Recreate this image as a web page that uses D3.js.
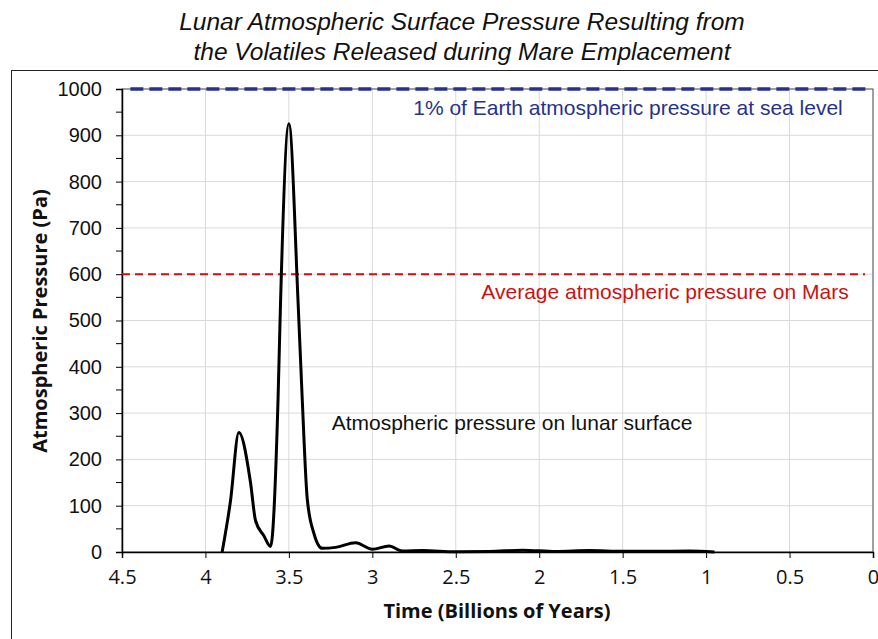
<!DOCTYPE html>
<html lang="en">
<head>
    <meta charset="UTF-8">
    <title>Lunar Atmospheric Surface Pressure</title>
    <script src="https://d3js.org/d3.v7.min.js"></script>
    <style>
        body { margin: 0; background: #fff; }
    </style>
</head>
<body>

<svg width="878" height="639"></svg>

<script>

    // data: time (billions of years ago) and pressure (Pa)
    var times = [3.90, 3.85, 3.80, 3.73, 3.70, 3.65, 3.61, 3.565, 3.55, 3.50, 3.445, 3.42, 3.39, 3.35, 3.30,
        3.22, 3.10, 3.00, 2.90, 2.82, 2.70, 2.50, 2.30, 2.10, 1.90, 1.70, 1.50, 1.30, 1.10, 0.95];
    var pressures = [0, 110, 258, 150, 68, 35, 12, 330, 540, 925, 540, 330, 115, 40, 8,
        10, 20, 6, 13, 2, 3, 0.5, 1, 4, 1, 3, 1.5, 1.5, 2, 0];

    var xTicks = [4.5, 4, 3.5, 3, 2.5, 2, 1.5, 1, 0.5, 0];
    var yTicks = [0, 100, 200, 300, 400, 500, 600, 700, 800, 900, 1000];
    var yMinorTicks = [50, 150, 250, 350, 450, 550, 650, 750, 850, 950];

    // reference levels
    var earthLevel = 1000;
    var marsLevel = 600;

    var titleLines = ['Lunar Atmospheric Surface Pressure Resulting from',
        'the Volatiles Released during Mare Emplacement'];

    var svg = d3.select('svg');

    // plot area (avoid the name "top", it is window.top)
    var pLeft = 122, pRight = 873, pTop = 89, pBottom = 552;

    var x = d3.scaleLinear().domain([4.5, 0]).range([pLeft, pRight]);
    var y = d3.scaleLinear().domain([0, 1000]).range([pBottom, pTop]);

    // outer frame
    svg.append('rect')
        .attr('x', 11.5).attr('y', 70.5)
        .attr('width', 900).attr('height', 600)
        .attr('fill', 'none')
        .attr('stroke', '#222')
        .attr('stroke-width', 1);

    // title
    svg.append('g')
        .selectAll('text')
        .data(titleLines)
        .enter()
        .append('text')
        .attr('x', 462)
        .attr('y', function (d, i) { return 30 + i * 30; })
        .attr('text-anchor', 'middle')
        .attr('font-family', 'Liberation Sans, Arial, sans-serif')
        .attr('font-style', 'italic')
        .attr('font-size', 24.5)
        .attr('fill', '#111')
        .text(function (d) { return d; });

    // gridlines
    var grid = svg.append('g');
    grid.selectAll('line.h')
        .data(yTicks.slice(1))
        .enter()
        .append('line')
        .attr('x1', pLeft).attr('x2', pRight)
        .attr('y1', function (d) { return y(d); })
        .attr('y2', function (d) { return y(d); })
        .attr('stroke', '#d9d9d9')
        .attr('stroke-width', 1);
    grid.selectAll('line.v')
        .data(xTicks.slice(1))
        .enter()
        .append('line')
        .attr('x1', function (d) { return x(d); })
        .attr('x2', function (d) { return x(d); })
        .attr('y1', pTop).attr('y2', pBottom)
        .attr('stroke', '#d9d9d9')
        .attr('stroke-width', 1);

    // plot area border
    svg.append('rect')
        .attr('x', pLeft).attr('y', pTop)
        .attr('width', pRight - pLeft).attr('height', pBottom - pTop)
        .attr('fill', 'none')
        .attr('stroke', '#555')
        .attr('stroke-width', 1);

    // y axis
    var yAxis = svg.append('g')
        .attr('transform', 'translate(' + pLeft + ',0)')
        .call(d3.axisLeft(y).tickValues(yTicks).tickSize(6).tickPadding(14).tickFormat(d3.format('d')));
    yAxis.select('.domain').attr('stroke', '#000').attr('stroke-width', 1.5);
    yAxis.selectAll('text')
        .attr('font-family', 'Liberation Sans, Arial, sans-serif')
        .attr('font-size', 20)
        .attr('fill', '#111');
    yAxis.selectAll('.tick line').attr('stroke', '#000');

    svg.append('g')
        .selectAll('line')
        .data(yMinorTicks)
        .enter()
        .append('line')
        .attr('x1', pLeft - 6).attr('x2', pLeft)
        .attr('y1', function (d) { return y(d); })
        .attr('y2', function (d) { return y(d); })
        .attr('stroke', '#000');

    // x axis
    var xAxis = svg.append('g')
        .attr('transform', 'translate(0,' + pBottom + ')')
        .call(d3.axisBottom(x).tickValues(xTicks).tickSize(6).tickPadding(12).tickFormat(d3.format('')));
    xAxis.select('.domain').attr('stroke', '#000').attr('stroke-width', 1.5);
    xAxis.selectAll('text')
        .attr('font-family', 'Open Sans, sans-serif')
        .attr('font-size', 20)
        .attr('fill', '#111');
    xAxis.selectAll('.tick line').attr('stroke', '#000');

    // axis titles
    svg.append('text')
        .attr('x', 497).attr('y', 618)
        .attr('text-anchor', 'middle')
        .attr('font-family', 'Open Sans, sans-serif')
        .attr('font-weight', 'bold')
        .attr('font-size', 20)
        .attr('fill', '#111')
        .text('Time (Billions of Years)');

    svg.append('text')
        .attr('transform', 'translate(47,321) rotate(-90)')
        .attr('text-anchor', 'middle')
        .attr('font-family', 'Open Sans, sans-serif')
        .attr('font-weight', 'bold')
        .attr('font-size', 20)
        .attr('fill', '#111')
        .text('Atmospheric Pressure (Pa)');

    // reference lines
    svg.append('line')
        .attr('x1', x(4.45)).attr('x2', pRight - 3)
        .attr('y1', y(earthLevel)).attr('y2', y(earthLevel))
        .attr('stroke', '#27318f')
        .attr('stroke-width', 3.5)
        .attr('stroke-dasharray', '13,6');

    svg.append('line')
        .attr('x1', pLeft).attr('x2', pRight - 8)
        .attr('y1', y(marsLevel)).attr('y2', y(marsLevel))
        .attr('stroke', '#cc1111')
        .attr('stroke-width', 2)
        .attr('stroke-dasharray', '8,5');

    // pressure curve
    var points = times.map(function (t, i) { return [t, pressures[i]]; });
    var line = d3.line()
        .x(function (d) { return x(d[0]); })
        .y(function (d) { return y(d[1]); })
        .curve(d3.curveMonotoneX);

    svg.append('path')
        .datum(points)
        .attr('d', line)
        .attr('fill', 'none')
        .attr('stroke', '#000')
        .attr('stroke-width', 3)
        .attr('stroke-linejoin', 'round');

    // annotations
    var notes = [
        {text: '1% of Earth atmospheric pressure at sea level', x: 628, y: 115, color: '#27318f'},
        {text: 'Average atmospheric pressure on Mars', x: 665, y: 299, color: '#cc1111'},
        {text: 'Atmospheric pressure on lunar surface', x: 512, y: 430, color: '#111'}
    ];
    svg.append('g')
        .selectAll('text')
        .data(notes)
        .enter()
        .append('text')
        .attr('x', function (d) { return d.x; })
        .attr('y', function (d) { return d.y; })
        .attr('text-anchor', 'middle')
        .attr('font-family', 'Liberation Sans, Arial, sans-serif')
        .attr('font-size', 21)
        .attr('fill', function (d) { return d.color; })
        .text(function (d) { return d.text; })
;

</script>
</body>
</html>
